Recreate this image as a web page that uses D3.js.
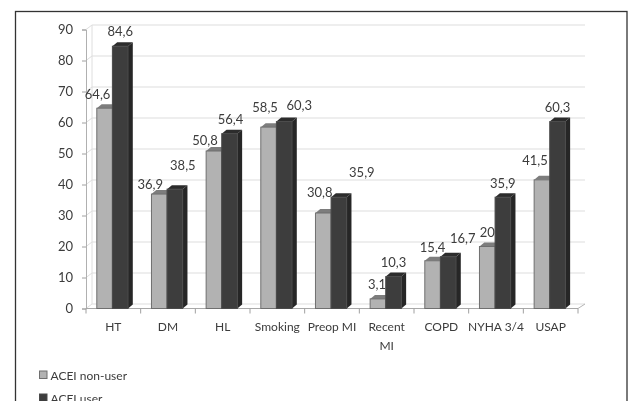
<!DOCTYPE html>
<html><head><meta charset="utf-8">
<script src="https://cdn.jsdelivr.net/npm/d3@7"></script>
<style>
html,body{margin:0;padding:0;background:#fff;overflow:hidden}
svg{display:block;filter:blur(0.45px)}
text{font-family:Lato,"Open Sans",sans-serif;font-size:12px;fill:#3c3c3c}
</style></head><body>
<svg id="c" width="631" height="401"></svg>
<script>
const categories=["HT","DM","HL","Smoking","Preop MI","Recent MI","COPD","NYHA 3/4","USAP"];
const seriesNames=["ACEI non-user","ACEI user"];
const nonUser=[64.6,36.9,50.8,58.5,30.8,3.1,15.4,20,41.5];
const user=[84.6,38.5,56.4,60.3,35.9,10.3,16.7,35.9,60.3];
const yTicks=[0,10,20,30,40,50,60,70,80,90];
// hand-placed label nudges of the original, in px from the bar-top centre
const nonUserNudge=[[-7,-14],[-9,-10],[-9,-11],[-3.5,-20],[-3.5,-21],[-1,-15],[0,-14],[0,-15],[-7,-20]];
const userNudge=[[0,-15],[8,-24],[1,-15],[15,-17],[23,-25],[0,-15],[14.5,-19],[0,-14],[0,-15]];

const svg=d3.select("#c");
const L=86,R=578,T=29.5,B=308.5,dx=6,dy=4.5;
const x=d3.scaleBand().domain(categories).range([L,R]);
const y=d3.scaleLinear().domain([0,90]).range([B,T]);
const inner=d3.scaleBand().domain(seriesNames).range([10.8,42]);
const bw=inner.bandwidth();

svg.append("rect").attr("x",15.5).attr("y",11.5).attr("width",611.5).attr("height",420)
  .attr("fill","#fff").attr("stroke","#333").attr("stroke-width",1.3);

// back wall gridlines
const grid="#dedede";
svg.append("g").selectAll("line").data(yTicks).join("line")
  .attr("x1",L+dx).attr("x2",R+dx+1).attr("y1",d=>y(d)-dy).attr("y2",d=>y(d)-dy)
  .attr("stroke",grid).attr("stroke-width",1.2);
svg.append("g").selectAll("line").data(yTicks).join("line")
  .attr("x1",L).attr("x2",L+dx).attr("y1",d=>y(d)).attr("y2",d=>y(d)-dy)
  .attr("stroke",grid).attr("stroke-width",1);
svg.append("line").attr("x1",L+dx).attr("x2",L+dx).attr("y1",y(0)-dy).attr("y2",y(90)-dy)
  .attr("stroke",grid).attr("stroke-width",1);
svg.append("line").attr("x1",R).attr("x2",R+dx+1).attr("y1",B).attr("y2",B-dy)
  .attr("stroke","#b5b5b5");

// axes
const axisY=svg.append("g").attr("transform",`translate(${L},0)`)
  .call(d3.axisLeft(y).tickValues(yTicks).tickSize(4).tickPadding(9).tickFormat(d3.format("d")));
axisY.select(".domain").attr("stroke","#b0b0b0");
axisY.selectAll("line").attr("stroke","#a0a0a0");
axisY.selectAll("text").attr("fill","#3c3c3c").style("font-size","13px");

const edges=categories.map(c=>x(c)).concat([R]);
svg.append("line").attr("x1",L).attr("x2",R).attr("y1",B).attr("y2",B).attr("stroke","#a8a8a8");
svg.append("g").selectAll("line").data(edges).join("line")
  .attr("x1",d=>d).attr("x2",d=>d).attr("y1",B).attr("y2",B+5).attr("stroke","#a0a0a0");

const axisX=svg.append("g").attr("transform",`translate(0,${B})`)
  .call(d3.axisBottom(x).tickSize(0).tickPadding(14).tickFormat(()=>""));
axisX.select(".domain").remove();
axisX.selectAll(".tick text").each(function(c){
  const t=d3.select(this).attr("fill","#3c3c3c").style("font-size","12px");
  const words=c==="Recent MI"?c.split(" "):[c];
  words.forEach((w,i)=>t.append("tspan").attr("x",0).attr("dy",i?"1.55em":"0.71em").text(w));
});

// 3D bars
const styles={
  "ACEI non-user":{front:"#b2b2b2",top:"#7d7d7d",side:"#8a8a8a",stroke:"#6f6f6f"},
  "ACEI user":{front:"#3d3d3d",top:"#2c2c2c",side:"#262626",stroke:"#4a4a4a"}
};
const rows=[[seriesNames[0],nonUser,nonUserNudge],[seriesNames[1],user,userNudge]];
const ddx=4.8,ddy=4;
rows.forEach(([name,vals,nudge])=>{
  const s=styles[name];
  const g=svg.append("g");
  const X=(i)=>x(categories[i])+inner(name);
  g.selectAll("path.side").data(vals).join("path").attr("class","side").attr("fill",s.side)
    .attr("d",(v,i)=>`M${X(i)+bw},${y(v)}L${X(i)+bw+ddx},${y(v)-ddy}L${X(i)+bw+ddx},${B-ddy}L${X(i)+bw},${B}Z`);
  g.selectAll("path.top").data(vals).join("path").attr("class","top").attr("fill",s.top)
    .attr("d",(v,i)=>`M${X(i)},${y(v)}L${X(i)+ddx},${y(v)-ddy}L${X(i)+bw+ddx},${y(v)-ddy}L${X(i)+bw},${y(v)}Z`);
  g.selectAll("rect").data(vals).join("rect")
    .attr("x",(v,i)=>X(i)).attr("y",v=>y(v)).attr("width",bw).attr("height",v=>B-y(v))
    .attr("fill",s.front).attr("stroke",s.stroke).attr("stroke-width",1);
});
rows.forEach(([name,vals,nudge])=>{
  svg.append("g").selectAll("text").data(vals).join("text")
    .attr("text-anchor","middle").attr("dominant-baseline","central").style("font-size","13px")
    .attr("x",(v,i)=>x(categories[i])+inner(name)+bw/2+nudge[i][0])
    .attr("y",(v,i)=>y(v)+nudge[i][1])
    .text(v=>String(v).replace(".",","));
});

// legend
const leg=d3.scaleOrdinal().domain(seriesNames).range([375,398]);
seriesNames.forEach(n=>{
  svg.append("rect").attr("x",39.5).attr("y",leg(n)-4).attr("width",7.5).attr("height",7.5)
    .attr("fill",styles[n].front).attr("stroke",styles[n].stroke);
  svg.append("text").attr("x",50.5).attr("y",leg(n)).attr("dominant-baseline","central").text(n);
});
</script>
</body></html>
